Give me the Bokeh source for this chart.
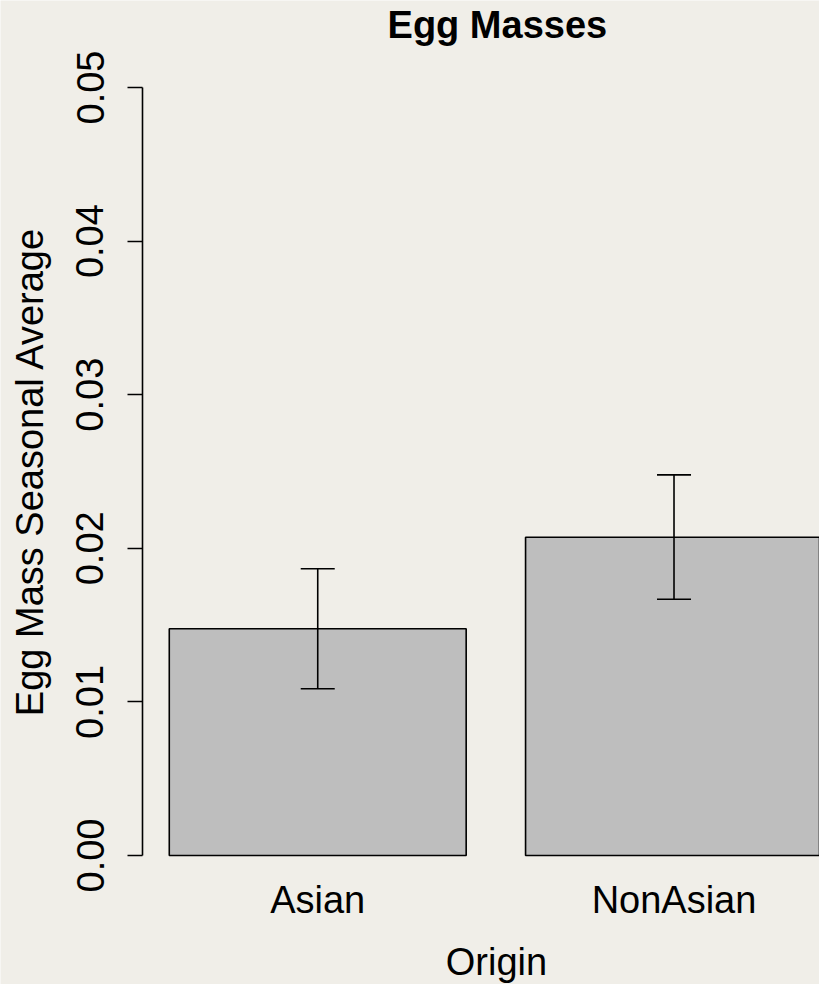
import math
from bokeh.plotting import figure
from bokeh.models import (Range1d, FixedTicker, PrintfTickFormatter, Whisker,
                          ColumnDataSource, TeeHead, Label)
from bokeh.embed import file_html
from bokeh.resources import INLINE

# ---- data ----
categories = ["Asian", "NonAsian"]
means = [0.01476, 0.02072]
lower = [0.01086, 0.01668]
upper = [0.01867, 0.02478]
y_ticks = [0.0, 0.01, 0.02, 0.03, 0.04, 0.05]

# bar layout as in R barplot (width 1, space 0.2)
centers = [0.2 + 0.5 + i * 1.2 for i in range(len(categories))]

BG = "#F0EEE8"
FONT = "Liberation Sans"
FS = "38px"

W, H = 819, 984
# pixel mapping of the original R device
PX_PER_X = 296.9          # px per bar unit
X0_PX = 109.4             # px of x = 0
PX_PER_Y = 15360.0        # px per y unit
Y0_PX = 855.0             # px of y = 0
AXIS_PX = 142.0           # px of the y axis line
LBL_SHIFT = 14            # baseline correction for labels

x_lo = (0 - X0_PX) / PX_PER_X
x_hi = (W - X0_PX) / PX_PER_X
y_lo = (Y0_PX - H) / PX_PER_Y
y_hi = (Y0_PX - 0) / PX_PER_Y
axis_x = (AXIS_PX - X0_PX) / PX_PER_X

p = figure(width=W, height=H, output_backend="svg", toolbar_location=None,
           x_range=Range1d(x_lo, x_hi), y_range=Range1d(y_lo, y_hi),
           min_border_left=0, min_border_right=0, min_border_top=0,
           min_border_bottom=0)
p.background_fill_color = BG
p.border_fill_color = BG
p.outline_line_color = None
p.grid.visible = False

src = ColumnDataSource(dict(x=centers, top=means, lower=lower, upper=upper, cat=categories))
p.vbar(x="x", top="top", bottom=0, width=1.0, source=src,
       fill_color="#BEBEBE", line_color="black", line_width=1.6)

w = Whisker(base="x", upper="upper", lower="lower", source=src, line_color="black",
            line_width=1.6, dimension="height", level="annotation")
w.upper_head = TeeHead(size=34, line_color="black", line_width=1.6)
w.lower_head = TeeHead(size=34, line_color="black", line_width=1.6)
p.add_layout(w)

# y axis
ya = p.yaxis[0]
ya.fixed_location = axis_x
ya.bounds = (0.0, 0.05)
ya.ticker = FixedTicker(ticks=y_ticks)
ya.formatter = PrintfTickFormatter(format="%.2f")
ya.major_label_orientation = "vertical"
ya.major_tick_out = 15
ya.major_tick_in = 0
ya.minor_tick_line_color = None
ya.axis_line_width = 1.6
ya.major_tick_line_width = 1.6
ya.axis_line_color = "black"
ya.major_tick_line_color = "black"
ya.major_label_text_font = FONT
ya.major_label_text_font_size = FS
ya.major_label_text_color = "black"
ya.major_label_standoff = 24

# x axis
xa = p.xaxis[0]
xa.fixed_location = 0.0
xa.ticker = FixedTicker(ticks=centers)
xa.major_label_overrides = {c: t for c, t in zip(centers, categories)}
xa.axis_line_color = None
xa.major_tick_line_color = None
xa.major_tick_out = 0
xa.major_tick_in = 0
xa.minor_tick_line_color = None
xa.major_label_text_font = FONT
xa.major_label_text_font_size = FS
xa.major_label_text_color = "black"
xa.major_label_standoff = 23

# titles (placed as in the original device)
p.add_layout(Label(x=1.305, y=(Y0_PX - 38 + LBL_SHIFT) / PX_PER_Y, text="Egg Masses",
                   text_font=FONT, text_font_size=FS, text_font_style="bold",
                   text_align="center", text_baseline="alphabetic", text_color="black"))
p.add_layout(Label(x=1.302, y=(Y0_PX - 975 + LBL_SHIFT) / PX_PER_Y, text="Origin",
                   text_font=FONT, text_font_size=FS, text_align="center",
                   text_baseline="alphabetic", text_color="black"))
p.add_layout(Label(x=(43 - LBL_SHIFT - X0_PX) / PX_PER_X, y=(Y0_PX - 471) / PX_PER_Y,
                   text="Egg Mass Seasonal Average", angle=math.pi / 2,
                   text_font=FONT, text_font_size=FS, text_align="center",
                   text_baseline="alphabetic", text_color="black"))

open("out.html", "w").write(file_html(p, INLINE))
